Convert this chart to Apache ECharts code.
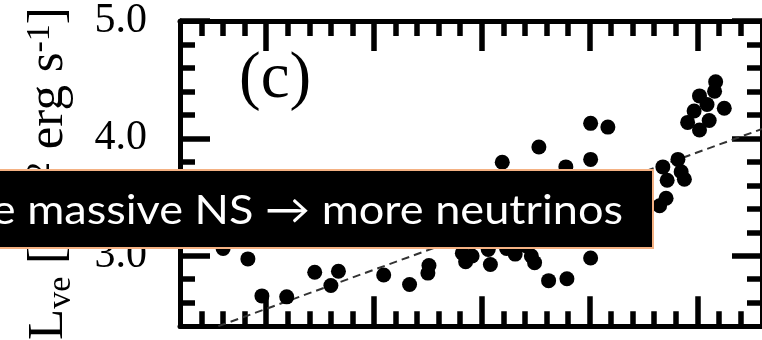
<!DOCTYPE html>
<html><head><meta charset="utf-8">
<script src="https://cdn.jsdelivr.net/npm/echarts@6/dist/echarts.min.js"></script>
<style>html,body{margin:0;padding:0;background:#fff;overflow:hidden}#c{width:762px;height:340px}</style>
</head><body><div id="c"></div>
<script>
// ---- data ----
const xMajorTicks = [1.4, 1.5, 1.6, 1.7, 1.8];
const xMinorTicks = [1.34, 1.36, 1.38, 1.42, 1.44, 1.46, 1.48, 1.52, 1.54, 1.56, 1.58,
                     1.62, 1.64, 1.66, 1.68, 1.72, 1.74, 1.76, 1.78, 1.82, 1.84];
const yMajorTicks = [3.0, 4.0, 5.0];
const yMinorTicks = [2.6, 2.8, 3.2, 3.4, 3.6, 3.8, 4.2, 4.4, 4.6, 4.8];
const yTickLabels = ['3.0', '4.0', '5.0'];

const massNS = [1.360, 1.383, 1.396, 1.419, 1.445, 1.467, 1.460, 1.509, 1.533, 1.551, 1.550,
                1.582, 1.591, 1.585, 1.606, 1.608, 1.623, 1.631, 1.641, 1.646, 1.649, 1.662,
                1.679, 1.701, 1.619, 1.653, 1.678, 1.701, 1.717, 1.701,
                1.817, 1.816, 1.802, 1.809, 1.825, 1.797, 1.791, 1.811, 1.802,
                1.782, 1.768, 1.785, 1.772, 1.788, 1.771, 1.765, 1.749];
const lumNue = [3.062, 2.973, 2.658, 2.650, 2.860, 2.868, 2.747, 2.836, 2.755, 2.917, 2.852,
                3.022, 2.998, 2.949, 3.054, 2.925, 3.062, 3.014, 3.086, 2.998, 2.941, 2.788,
                2.804, 2.981, 3.797, 3.926, 3.757, 4.128, 4.096, 3.821,
                4.483, 4.402, 4.362, 4.289, 4.257, 4.233, 4.136, 4.152, 4.071,
                3.821, 3.757, 3.716, 3.643, 3.652, 3.490, 3.426, 3.668];

const fitX = [1.3556, 1.86];
const fitY = [2.4, 4.08];

const panelLabel = '(c)';
const noteText = 'e massive NS \u2192 more neutrinos';

// ---- chart ----
const chart = echarts.init(document.getElementById('c'), null, {renderer: 'canvas'});
const X_MIN = 1.32, X_MAX = 1.86, Y_MIN = 2.4, Y_MAX = 5.0;

function xAx(pos, ticks, len, line) {
  return {
    type: 'value', gridIndex: 0, position: pos, min: X_MIN, max: X_MAX,
    axisLine: {show: line, onZero: false, lineStyle: {color: '#000', width: 5}},
    axisTick: {show: true, inside: true, length: len, customValues: ticks, lineStyle: {color: '#000', width: 5.5}},
    axisLabel: {show: false}, splitLine: {show: false}
  };
}
function yAx(pos, ticks, len, line, extra) {
  return Object.assign({
    type: 'value', gridIndex: 0, position: pos, min: Y_MIN, max: Y_MAX,
    axisLine: {show: line, onZero: false, lineStyle: {color: '#000', width: 5}},
    axisTick: {show: true, inside: true, length: len, customValues: ticks, lineStyle: {color: '#000', width: 5.5}},
    axisLabel: {show: false}, splitLine: {show: false}
  }, extra || {});
}

const serif = "'Liberation Serif', 'Times New Roman', serif";

const option = {
  backgroundColor: '#fff',
  animation: false,
  title: {
    text: panelLabel, left: 239, top: 47, padding: 0, z: 50,
    textStyle: {fontFamily: serif, fontSize: 65, fontWeight: 'normal', color: '#000'}
  },
  grid: {left: 180, top: 15, width: 585, height: 322, containLabel: false},
  xAxis: [
    xAx('bottom', xMajorTicks, 30, true),
    xAx('bottom', xMinorTicks, 15, false),
    xAx('top', xMajorTicks, 30, true),
    xAx('top', xMinorTicks, 15, false)
  ],
  yAxis: [
    yAx('left', yMajorTicks, 30, true, {
      axisLabel: {
        show: true, customValues: yMajorTicks, margin: 33,
        formatter: v => yTickLabels[yMajorTicks.indexOf(v)] || v.toFixed(1),
        fontFamily: serif, fontSize: 42, color: '#000', padding: [5, 0, 0, 0],
        showMaxLabel: true, showMinLabel: true
      },
      name: '{n|L}{sub|ve}{n| [10}{sup|52}{n| erg s}{sup|-1}{n|]}',
      nameLocation: 'middle', nameRotate: 90, nameGap: 106,
      nameTextStyle: {
        fontFamily: serif, color: '#000',
        rich: {
          n: {fontFamily: serif, fontSize: 51, color: '#000'},
          sub: {fontFamily: serif, fontSize: 34, color: '#000', verticalAlign: 'bottom', padding: [0, 0, -4, 0]},
          sup: {fontFamily: serif, fontSize: 34, color: '#000', verticalAlign: 'top'}
        }
      }
    }),
    yAx('left', yMinorTicks, 15, false),
    yAx('right', yMajorTicks, 30, true),
    yAx('right', yMinorTicks, 15, false)
  ],
  series: [
    {
      type: 'line', xAxisIndex: 0, yAxisIndex: 0, z: 1,
      data: fitX.map((x, i) => [x, fitY[i]]),
      symbol: 'none', silent: true,
      lineStyle: {color: '#333', width: 2, type: [8, 5]}
    },
    {
      type: 'scatter', xAxisIndex: 0, yAxisIndex: 0, z: 2,
      data: massNS.map((x, i) => [x, lumNue[i]]),
      symbol: 'circle', symbolSize: 15,
      itemStyle: {color: '#000', opacity: 1}
    }
  ],
  graphic: [
    {
      type: 'rect', z: 100,
      shape: {x: -10, y: 170, width: 663, height: 78},
      style: {fill: '#000', stroke: '#F4B183', lineWidth: 2}
    },
    {
      type: 'text', z: 101, x: 623, y: 211, scaleX: 1.1,
      style: {text: noteText, fontFamily: 'Lato', fontSize: 41, fill: '#fff',
              align: 'right', verticalAlign: 'middle'}
    }
  ]
};
chart.setOption(option);
</script>
</body></html>
